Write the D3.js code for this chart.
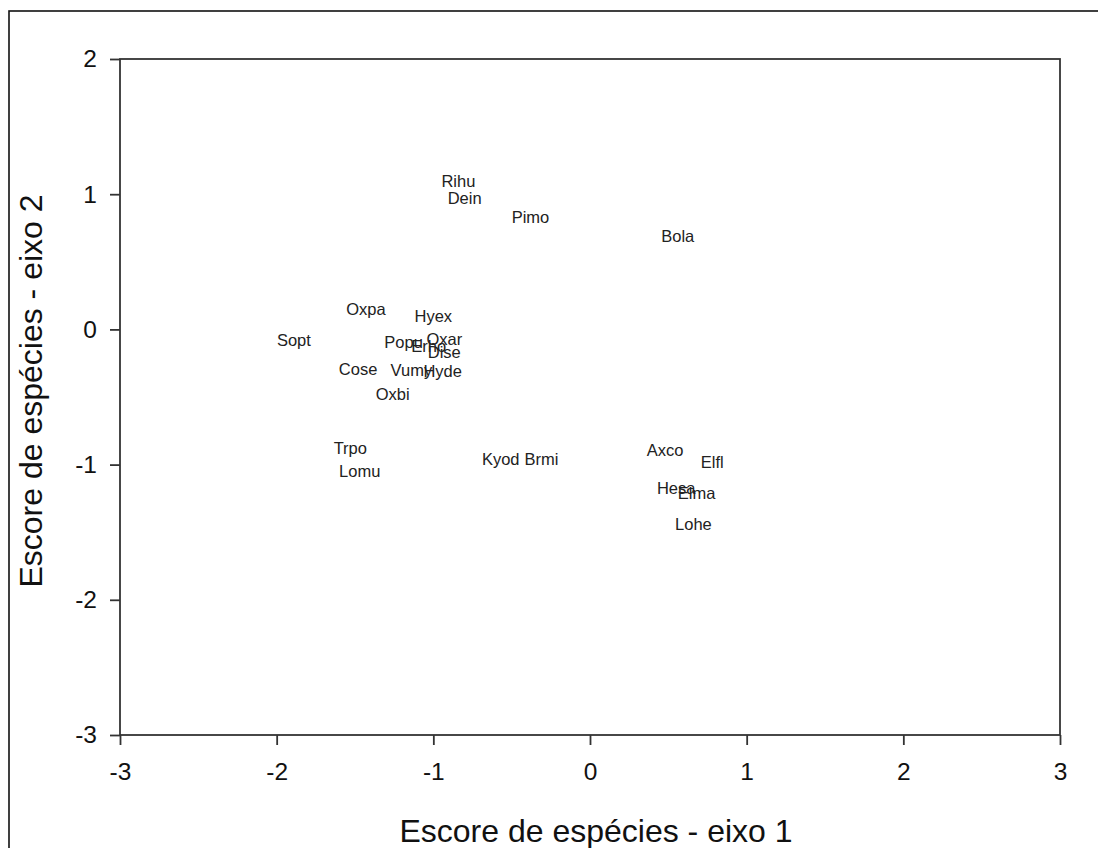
<!DOCTYPE html>
<html>
<head>
<meta charset="utf-8">
<script src="https://cdn.jsdelivr.net/npm/d3@7"></script>
<style>
html,body{margin:0;padding:0;background:#fff;}
svg{display:block;font-family:"Liberation Sans", Arial, sans-serif;}
</style>
</head>
<body>
<svg id="chart" width="1098" height="848"></svg>
<script>
const species = ["Rihu","Dein","Pimo","Bola","Oxpa","Hyex","Sopt","Popu","Erho","Oxar","Dise","Cose","Vumy","Hyde","Oxbi","Trpo","Lomu","Kyod","Brmi","Axco","Elfl","Hesa","Elma","Lohe"];
const axis1 = [-0.84,-0.80,-0.38,0.56,-1.43,-1.00,-1.89,-1.19,-1.03,-0.93,-0.93,-1.48,-1.14,-0.94,-1.26,-1.53,-1.47,-0.57,-0.31,0.48,0.78,0.55,0.68,0.66];
const axis2 = [1.10,0.97,0.83,0.69,0.15,0.10,-0.08,-0.09,-0.12,-0.07,-0.17,-0.29,-0.30,-0.31,-0.48,-0.88,-1.05,-0.96,-0.96,-0.89,-0.98,-1.17,-1.21,-1.44];
const xTicks = [-3,-2,-1,0,1,2,3];
const yTicks = [-3,-2,-1,0,1,2];
const xTitle = "Escore de espécies - eixo 1";
const yTitle = "Escore de espécies - eixo 2";

(function(){
const svg = d3.select("#chart");
const pL = 120, pR = 1060, pT = 59, pB = 735;
const x = d3.scaleLinear().domain([-3,3]).range([pL,pR]);
const y = d3.scaleLinear().domain([-3,2]).range([pB,pT]);

// outer frame
svg.append("rect").attr("x",9).attr("y",11).attr("width",1200).attr("height",1000)
  .attr("fill","none").attr("stroke","#111").attr("stroke-width",1.6);

// axes
const fmt = d => String(d);
const xAxis = d3.axisBottom(x).tickValues(xTicks).tickSize(10).tickSizeOuter(0).tickPadding(13).tickFormat(fmt);
const yAxis = d3.axisLeft(y).tickValues(yTicks).tickSize(10).tickSizeOuter(0).tickPadding(13).tickFormat(fmt);

const gx = svg.append("g").attr("transform",`translate(0,${pB})`).call(xAxis);
const gy = svg.append("g").attr("transform",`translate(${pL},0)`).call(yAxis);
[gx,gy].forEach(g=>{
  g.select(".domain").remove();
  g.selectAll("line").attr("stroke","#333").attr("stroke-width",1.8);
  g.selectAll("text").attr("fill","#111").style("font-size","24.5px").style("font-family","'Liberation Sans', Arial, sans-serif");
});
gx.selectAll("text").attr("dy","0.9em");

// plot box
svg.append("rect").attr("x",pL).attr("y",pT).attr("width",pR-pL).attr("height",pB-pT)
  .attr("fill","none").attr("stroke","#333").attr("stroke-width",1.8);

// species labels
svg.append("g").selectAll("text").data(species).join("text")
  .attr("x",(d,i)=>x(axis1[i]))
  .attr("y",(d,i)=>y(axis2[i]))
  .attr("dy","0.36em")
  .attr("text-anchor","middle")
  .attr("fill","#222")
  .style("font-size","16.5px")
  .text(d=>d);

// titles
svg.append("text").attr("x",596).attr("y",842).attr("text-anchor","middle")
  .attr("fill","#111").style("font-size","32px").text(xTitle);
svg.append("text").attr("transform","translate(42,391) rotate(-90)").attr("text-anchor","middle")
  .attr("fill","#111").style("font-size","32px").text(yTitle);
})();
</script>
</body>
</html>
